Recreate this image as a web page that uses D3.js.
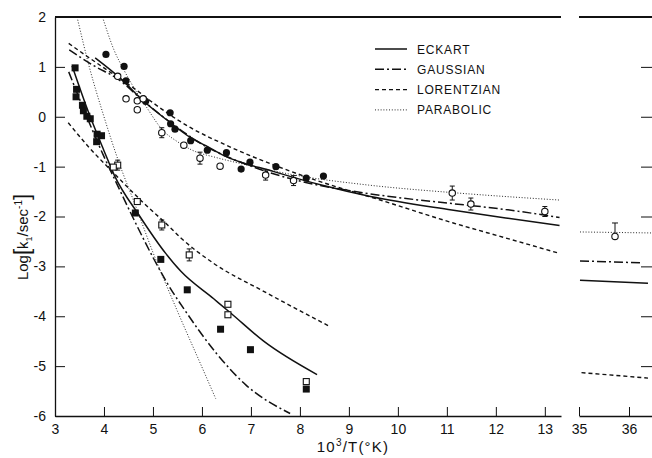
<!DOCTYPE html>
<html>
<head>
<meta charset="utf-8">
<script src="https://cdn.jsdelivr.net/npm/d3@7"></script>
<style>
  body { margin: 0; background: #fff; }
  svg { font-family: "Liberation Sans", Arial, sans-serif; }
  .axis text { font-size: 14px; fill: #111; }
  .axis path, .axis line { stroke: #111; }
</style>
</head>
<body>
<div id="chart"></div>
<script>
// ---- data: [10^3/T, log k1] ----
const xTicksLeft = [3, 4, 5, 6, 7, 8, 9, 10, 11, 12, 13];
const xTicksRight = [35, 36];
const yTicks = [2, 1, 0, -1, -2, -3, -4, -5, -6];

// upper data set (circles), third value = error bar half height (0 = none)
const filledCircles = [[4.04, 1.25], [4.41, 1.01], [4.45, 0.72], [4.85, 0.31], [5.35, 0.08],
  [5.36, -0.14], [5.45, -0.25], [5.77, -0.48], [6.11, -0.67], [6.50, -0.72], [6.80, -1.05],
  [6.98, -0.91], [7.51, -1.0], [8.13, -1.23], [8.48, -1.19]];
const openCircles = [[4.28, 0.81, 0], [4.45, 0.36, 0], [4.68, 0.32, 0], [4.68, 0.14, 0],
  [4.80, 0.36, 0], [5.18, -0.32, 0.1], [5.63, -0.57, 0], [5.96, -0.83, 0.12], [6.37, -0.99, 0],
  [7.30, -1.17, 0.1], [7.87, -1.28, 0.1], [11.11, -1.53, 0.14], [11.49, -1.75, 0.12],
  [13.0, -1.90, 0.1]];

// lower data set (squares)
const filledSquares = [[3.41, 0.98], [3.44, 0.55], [3.43, 0.40], [3.56, 0.23], [3.58, 0.12],
  [3.65, 0.01], [3.72, -0.04], [3.86, -0.35], [3.95, -0.38], [3.85, -0.50], [4.64, -1.93],
  [5.16, -2.86], [5.70, -3.47], [6.38, -4.26], [6.99, -4.67], [8.13, -5.46]];
const openSquares = [[4.28, -0.97, 0.1], [4.19, -1.01, 0], [4.68, -1.70, 0], [5.18, -2.17, 0.1],
  [5.74, -2.77, 0.12], [6.53, -3.76, 0], [6.53, -3.97, 0], [8.13, -5.31, 0]];

// theoretical curves, upper set
const eckartHigh = [[3.82, 1.18], [4.38, 0.73], [4.79, 0.33], [5.33, -0.10], [5.77, -0.42],
  [6.08, -0.58], [6.45, -0.78], [7.47, -1.10], [8.48, -1.38], [9.44, -1.60], [11.1, -1.87],
  [12.2, -2.03], [13.3, -2.18]];
const gaussHigh = [[3.29, 1.34], [3.8, 1.02], [4.28, 0.76], [4.8, 0.32], [5.3, -0.07],
  [6.0, -0.55], [7.0, -0.99], [8.0, -1.29], [9.0, -1.48], [10.0, -1.62], [11.1, -1.74],
  [12.2, -1.86], [13.3, -2.02]];
const lorentzHigh = [[3.28, 1.47], [3.70, 1.18], [4.18, 0.86], [4.6, 0.58], [5.0, 0.28],
  [5.5, -0.06], [5.77, -0.22], [6.45, -0.55], [7.5, -0.98], [8.35, -1.28], [9.64, -1.67],
  [11.13, -2.13], [12.2, -2.43], [13.3, -2.74]];
const parabHigh = [[3.97, 2.0], [4.2, 1.35], [4.4, 0.95], [4.6, 0.6], [4.85, 0.22], [5.2, -0.27],
  [5.5, -0.5], [5.8, -0.67], [6.3, -0.82], [6.8, -0.94], [7.9, -1.17], [9.4, -1.37],
  [11.1, -1.52], [13.3, -1.67]];

// theoretical curves, lower set
const eckartLow = [[3.35, 1.02], [3.7, 0.05], [4.0, -0.68], [4.21, -1.17], [4.72, -1.98],
  [5.26, -2.74], [5.57, -3.1], [6.24, -3.65], [6.58, -3.93], [7.26, -4.5], [8.35, -5.17]];
const gaussLow = [[3.28, 0.90], [3.7, -0.12], [4.0, -0.8], [4.25, -1.32], [4.62, -2.08],
  [5.0, -2.82], [5.3, -3.35], [5.7, -3.95], [6.3, -4.75], [6.9, -5.38], [7.8, -5.95]];
const lorentzLow = [[3.27, -0.12], [3.7, -0.62], [4.2, -1.13], [4.8, -1.72], [5.33, -2.2],
  [5.57, -2.43], [6.24, -2.94], [7.26, -3.5], [8.6, -4.2]];
const parabLow = [[3.45, 2.0], [3.7, 1.0], [4.0, 0.0], [4.3, -0.9], [4.65, -1.8], [5.0, -2.72],
  [5.5, -3.9], [6.0, -5.02], [6.28, -5.65]];

// right panel (10^3/T = 35 .. 36.5)
const eckartRight = [[35.02, -3.28], [36.38, -3.34]];
const gaussRight = [[35.02, -2.89], [36.28, -2.93]];
const lorentzRight = [[35.05, -5.13], [36.38, -5.24]];
const parabRight = [[35.02, -2.31], [36.46, -2.33]];
const rightPoint = [35.72, -2.40, -2.13];

const legendNames = ["ECKART", "GAUSSIAN", "LORENTZIAN", "PARABOLIC"];

// ---- styles ----
const styles = {
  ECKART: { dash: null, width: 1.5 },
  GAUSSIAN: { dash: "9,3,2,3", width: 1.5 },
  LORENTZIAN: { dash: "4,3", width: 1.4 },
  PARABOLIC: { dash: "1,1.8", width: 0.9 }
};

const outerWidth = 652;
const outerHeight = 458;

const SVG = d3.select("#chart").append("svg")
  .attr("width", outerWidth)
  .attr("height", outerHeight);

const xLeft = d3.scaleLinear().domain([3, 13.33]).range([55, 561]);
const xRight = d3.scaleLinear().domain([35, 36.46]).range([579, 652]);
const yScale = d3.scaleLinear().domain([2, -6]).range([17, 416]);

const tickFmt = function(d) { return (d < 0 ? "-" : "") + Math.abs(d); };

// axes
SVG.append("g")
  .attr("class", "axis")
  .attr("transform", "translate(55,0)")
  .call(d3.axisLeft(yScale).tickValues(yTicks).tickSize(-10).tickSizeOuter(0)
    .tickPadding(9).tickFormat(tickFmt))
  .call(function(g) { g.select(".domain").attr("stroke-width", 1.3); });

SVG.append("g")
  .attr("class", "axis")
  .attr("transform", "translate(0,416)")
  .call(d3.axisBottom(xLeft).tickValues(xTicksLeft).tickSize(-9).tickSizeOuter(0)
    .tickPadding(8).tickFormat(tickFmt))
  .call(function(g) {
    g.select(".domain").attr("stroke-width", 1.5);
    g.selectAll(".tick").filter(function(d) { return d === 3; }).select("line").remove();
  });

SVG.append("g")
  .attr("class", "axis")
  .attr("transform", "translate(0,416)")
  .call(d3.axisBottom(xRight).tickValues(xTicksRight).tickSize(-9).tickSizeOuter(0)
    .tickPadding(8).tickFormat(tickFmt))
  .call(function(g) { g.select(".domain").attr("stroke-width", 1.5); });

SVG.append("g")
  .attr("class", "axis")
  .attr("transform", "translate(652,0)")
  .call(d3.axisRight(yScale).tickValues(yTicks.slice(1, -1)).tickSize(-11).tickFormat(""))
  .call(function(g) { g.select(".domain").remove(); });

// top frame lines
SVG.append("line")
  .attr("x1", xLeft.range()[0]).attr("x2", xLeft.range()[1])
  .attr("y1", yScale(2)).attr("y2", yScale(2))
  .attr("stroke", "#111").attr("stroke-width", 2);
SVG.append("line")
  .attr("x1", xRight.range()[0]).attr("x2", xRight.range()[1])
  .attr("y1", yScale(2)).attr("y2", yScale(2))
  .attr("stroke", "#111").attr("stroke-width", 2);

// curves
function drawCurve(data, xs, name) {
  const line = d3.line()
    .curve(d3.curveMonotoneX)
    .x(function(d) { return xs(d[0]); })
    .y(function(d) { return yScale(d[1]); });
  SVG.append("path")
    .attr("d", line(data))
    .attr("fill", "none")
    .attr("stroke", "#111")
    .attr("stroke-width", styles[name].width)
    .attr("stroke-dasharray", styles[name].dash);
}

drawCurve(eckartHigh, xLeft, "ECKART");
drawCurve(gaussHigh, xLeft, "GAUSSIAN");
drawCurve(lorentzHigh, xLeft, "LORENTZIAN");
drawCurve(parabHigh, xLeft, "PARABOLIC");
drawCurve(eckartLow, xLeft, "ECKART");
drawCurve(gaussLow, xLeft, "GAUSSIAN");
drawCurve(lorentzLow, xLeft, "LORENTZIAN");
drawCurve(parabLow, xLeft, "PARABOLIC");
drawCurve(eckartRight, xRight, "ECKART");
drawCurve(gaussRight, xRight, "GAUSSIAN");
drawCurve(lorentzRight, xRight, "LORENTZIAN");
drawCurve(parabRight, xRight, "PARABOLIC");

// error bars
function drawBars(data) {
  const bars = SVG.append("g").attr("stroke", "#111").attr("stroke-width", 1);
  data.filter(function(d) { return d[2] > 0; }).forEach(function(d) {
    const cx = xLeft(d[0]);
    const top = yScale(d[1] + d[2]);
    const bot = yScale(d[1] - d[2]);
    bars.append("line").attr("x1", cx).attr("x2", cx).attr("y1", top).attr("y2", bot);
    bars.append("line").attr("x1", cx - 2.5).attr("x2", cx + 2.5).attr("y1", top).attr("y2", top);
    bars.append("line").attr("x1", cx - 2.5).attr("x2", cx + 2.5).attr("y1", bot).attr("y2", bot);
  });
}
drawBars(openCircles);
drawBars(openSquares);

// points
SVG.append("g").selectAll("circle")
  .data(filledCircles).enter().append("circle")
  .attr("cx", function(d) { return xLeft(d[0]); })
  .attr("cy", function(d) { return yScale(d[1]); })
  .attr("r", 3.6)
  .attr("fill", "#111");

SVG.append("g").selectAll("circle")
  .data(openCircles).enter().append("circle")
  .attr("cx", function(d) { return xLeft(d[0]); })
  .attr("cy", function(d) { return yScale(d[1]); })
  .attr("r", 3.2)
  .attr("fill", "#fff")
  .attr("stroke", "#111")
  .attr("stroke-width", 1.1);

SVG.append("g").selectAll("rect")
  .data(filledSquares).enter().append("rect")
  .attr("x", function(d) { return xLeft(d[0]) - 3.5; })
  .attr("y", function(d) { return yScale(d[1]) - 3.5; })
  .attr("width", 7).attr("height", 7)
  .attr("fill", "#111");

SVG.append("g").selectAll("rect")
  .data(openSquares).enter().append("rect")
  .attr("x", function(d) { return xLeft(d[0]) - 3; })
  .attr("y", function(d) { return yScale(d[1]) - 3; })
  .attr("width", 6).attr("height", 6)
  .attr("fill", "#fff")
  .attr("stroke", "#111")
  .attr("stroke-width", 1.1);

// right panel point with upper error bar
const rpx = xRight(rightPoint[0]);
SVG.append("line")
  .attr("x1", rpx).attr("x2", rpx)
  .attr("y1", yScale(rightPoint[1]) - 3).attr("y2", yScale(rightPoint[2]))
  .attr("stroke", "#111").attr("stroke-width", 1);
SVG.append("line")
  .attr("x1", rpx - 3).attr("x2", rpx + 3)
  .attr("y1", yScale(rightPoint[2])).attr("y2", yScale(rightPoint[2]))
  .attr("stroke", "#111").attr("stroke-width", 1);
SVG.append("circle")
  .attr("cx", rpx).attr("cy", yScale(rightPoint[1])).attr("r", 3.2)
  .attr("fill", "#fff").attr("stroke", "#111").attr("stroke-width", 1.1);

// legend
const legend = SVG.append("g").attr("transform", "translate(375,49)");
legendNames.forEach(function(name, i) {
  const row = legend.append("g").attr("transform", "translate(0," + (i * 20.3) + ")");
  row.append("line")
    .attr("x1", 0).attr("x2", 32)
    .attr("stroke", "#111")
    .attr("stroke-width", styles[name].width)
    .attr("stroke-dasharray", styles[name].dash);
  row.append("text")
    .attr("x", 42).attr("y", 4.5)
    .attr("font-size", 12)
    .attr("letter-spacing", 0.8)
    .attr("fill", "#111")
    .text(name);
});

// axis titles
const xTitle = SVG.append("text")
  .attr("x", 353).attr("y", 452)
  .attr("text-anchor", "middle")
  .attr("font-size", 15)
  .attr("letter-spacing", 1.2)
  .attr("fill", "#111");
xTitle.append("tspan").text("10");
xTitle.append("tspan").attr("dy", -6).attr("font-size", 10).text("3");
xTitle.append("tspan").attr("dy", 6).text("/T(°K)");

const yTitle = SVG.append("text")
  .attr("transform", "translate(28,237) rotate(-90)")
  .attr("text-anchor", "middle")
  .attr("font-size", 15)
  .attr("fill", "#111");
yTitle.append("tspan").text("Log");
yTitle.append("tspan").attr("font-size", 22).attr("dy", 1).text("[");
yTitle.append("tspan").attr("dy", -1).text("k");
yTitle.append("tspan").attr("font-size", 9).attr("dy", 4).text("1");
yTitle.append("tspan").attr("dy", -4).text("/sec");
yTitle.append("tspan").attr("font-size", 10).attr("dy", -6).text("-1");
yTitle.append("tspan").attr("font-size", 22).attr("dy", 7).text("]");
</script>
</body>
</html>
